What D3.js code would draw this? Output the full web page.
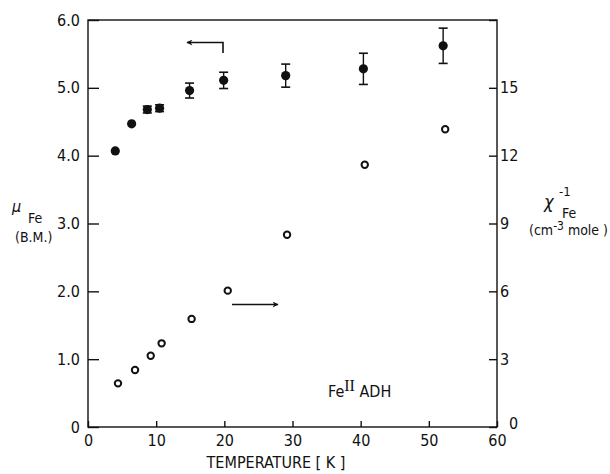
<!DOCTYPE html>
<html>
<head>
<meta charset="utf-8">
<script src="https://cdn.jsdelivr.net/npm/d3@7"></script>
<style>
body { margin: 0; background: #fff; }
svg text { font-family: "Liberation Sans Narrow", "DejaVu Sans Condensed", "Arial Narrow", sans-serif; fill: #111; }
</style>
</head>
<body>
<svg id="chart"></svg>
<script>
// magnetic moment (filled circles, left axis)
var muTemps = [4.0, 6.4, 8.7, 10.5, 14.9, 19.9, 29.0, 40.4, 52.1];
var muFe = [4.07, 4.47, 4.68, 4.70, 4.96, 5.11, 5.18, 5.28, 5.62];
var muErr = [0, 0, 0.05, 0.05, 0.11, 0.12, 0.17, 0.23, 0.26];

// inverse susceptibility (open circles, right axis)
var chiTemps = [4.4, 6.9, 9.2, 10.8, 15.2, 20.5, 29.2, 40.6, 52.4];
var chiInv = [1.93, 2.52, 3.15, 3.70, 4.78, 6.03, 8.50, 11.6, 13.17];

var xTicks = [0, 10, 20, 30, 40, 50, 60];
var leftTicks = [0, 1, 2, 3, 4, 5, 6];
var leftLabels = ["0", "1.0", "2.0", "3.0", "4.0", "5.0", "6.0"];
var rightTicks = [0, 3, 6, 9, 12, 15, 18];
var rightLabels = ["0", "3", "6", "9", "12", "15", ""];

var width = 610;
var height = 474;

var svg = d3.select("#chart")
  .attr("width", width)
  .attr("height", height);

var x = d3.scaleLinear().domain([0, 60]).range([88, 497]);
var yL = d3.scaleLinear().domain([0, 6]).range([427, 20]);
var yR = d3.scaleLinear().domain([0, 18]).range([427, 20]);

// frame
svg.append("rect")
  .attr("x", x(0))
  .attr("y", yL(6))
  .attr("width", x(60) - x(0))
  .attr("height", yL(0) - yL(6))
  .attr("fill", "none")
  .attr("stroke", "#111")
  .attr("stroke-width", 1.4);

var leftAxis = svg.append("g")
  .attr("transform", "translate(" + x(0) + ",0)")
  .call(d3.axisLeft(yL).tickValues(leftTicks).tickSize(-11).tickPadding(8)
    .tickFormat(function(d, i) { return leftLabels[i]; }));

var rightAxis = svg.append("g")
  .attr("transform", "translate(" + x(60) + ",0)")
  .call(d3.axisRight(yR).tickValues(rightTicks).tickSize(-8).tickPadding(3)
    .tickFormat(function(d, i) { return rightLabels[i]; }));

var bottomAxis = svg.append("g")
  .attr("transform", "translate(0," + yL(0) + ")")
  .call(d3.axisBottom(x).tickValues(xTicks).tickSize(-6).tickPadding(8)
    .tickFormat(d3.format("d")));

[leftAxis, rightAxis, bottomAxis].forEach(function(g) {
  g.select(".domain").remove();
  g.selectAll(".tick line").attr("stroke", "#111").attr("stroke-width", 1.4);
  g.selectAll(".tick text").style("font-size", "16px").attr("fill", "#111");
});

// the corner zero on the right sits clear of the "60"
rightAxis.selectAll(".tick text")
  .filter(function(d) { return d === 0; })
  .attr("x", 12)
  .attr("dy", "0.1em");

// error bars
var muData = muTemps.map(function(t, i) {
  return {t: t, v: muFe[i], e: muErr[i]};
});
var errData = muData.filter(function(d) { return d.e > 0; });

svg.selectAll(".err")
  .data(errData)
  .enter()
  .append("line")
  .attr("class", "err")
  .attr("x1", function(d) { return x(d.t); })
  .attr("x2", function(d) { return x(d.t); })
  .attr("y1", function(d) { return yL(d.v - d.e); })
  .attr("y2", function(d) { return yL(d.v + d.e); })
  .attr("stroke", "#111")
  .attr("stroke-width", 1.4);

svg.selectAll(".capTop")
  .data(errData)
  .enter()
  .append("line")
  .attr("x1", function(d) { return x(d.t) - 4.5; })
  .attr("x2", function(d) { return x(d.t) + 4.5; })
  .attr("y1", function(d) { return yL(d.v + d.e); })
  .attr("y2", function(d) { return yL(d.v + d.e); })
  .attr("stroke", "#111")
  .attr("stroke-width", 1.6);

svg.selectAll(".capBot")
  .data(errData)
  .enter()
  .append("line")
  .attr("x1", function(d) { return x(d.t) - 4.5; })
  .attr("x2", function(d) { return x(d.t) + 4.5; })
  .attr("y1", function(d) { return yL(d.v - d.e); })
  .attr("y2", function(d) { return yL(d.v - d.e); })
  .attr("stroke", "#111")
  .attr("stroke-width", 1.6);

svg.selectAll(".mu")
  .data(muData)
  .enter()
  .append("circle")
  .attr("cx", function(d) { return x(d.t); })
  .attr("cy", function(d) { return yL(d.v); })
  .attr("r", 4.6)
  .attr("fill", "#111");

svg.selectAll(".chi")
  .data(chiTemps)
  .enter()
  .append("circle")
  .attr("cx", function(d) { return x(d); })
  .attr("cy", function(d, i) { return yR(chiInv[i]); })
  .attr("r", 3.2)
  .attr("fill", "none")
  .attr("stroke", "#111")
  .attr("stroke-width", 2);

// arrows
var defs = svg.append("defs");
defs.append("marker")
  .attr("id", "head")
  .attr("viewBox", "0 0 10 10")
  .attr("refX", 9)
  .attr("refY", 5)
  .attr("markerWidth", 12)
  .attr("markerHeight", 6)
  .attr("markerUnits", "userSpaceOnUse")
  .attr("orient", "auto")
  .append("path")
  .attr("d", "M0,0 L10,5 L0,10 L3,5 Z")
  .attr("fill", "#111");

svg.append("path")
  .attr("d", "M223,53 L223,42.5 L187,42.5")
  .attr("fill", "none")
  .attr("stroke", "#111")
  .attr("stroke-width", 1.6)
  .attr("marker-end", "url(#head)");

svg.append("path")
  .attr("d", "M232,304.5 L278,304.5")
  .attr("fill", "none")
  .attr("stroke", "#111")
  .attr("stroke-width", 1.6)
  .attr("marker-end", "url(#head)");

// axis titles
svg.append("text")
  .attr("x", 276)
  .attr("y", 468)
  .attr("text-anchor", "middle")
  .style("font-size", "16px")
  .text("TEMPERATURE [ K ]");

var lt = svg.append("text").style("font-size", "16px");
lt.append("tspan").attr("x", 12).attr("y", 212).style("font-style", "italic").text("\u03bc");
lt.append("tspan").attr("x", 28).attr("y", 223).style("font-size", "14px").text("Fe");
svg.append("text")
  .attr("x", 15)
  .attr("y", 242)
  .style("font-size", "14px")
  .text("(B.M.)");

var rt = svg.append("text").style("font-size", "18px");
rt.append("tspan").attr("x", 544).attr("y", 208).style("font-style", "italic").text("\u03c7");
rt.append("tspan").attr("x", 559).attr("y", 196).style("font-size", "13px").text("-1");
rt.append("tspan").attr("x", 562).attr("y", 218).style("font-size", "14px").text("Fe");
var rt2 = svg.append("text").attr("x", 529).attr("y", 235).style("font-size", "14px");
rt2.append("tspan").text("(cm");
rt2.append("tspan").attr("dy", -5).style("font-size", "12px").text("-3");
rt2.append("tspan").attr("dy", 5).text(" mole )");

var ft = svg.append("text").attr("x", 328).attr("y", 397).style("font-size", "16px");
ft.append("tspan").text("Fe");
ft.append("tspan").attr("dy", -6).style("font-family", "Liberation Serif, serif").text("II");
ft.append("tspan").attr("dy", 6).text(" ADH");
</script>
</body>
</html>
